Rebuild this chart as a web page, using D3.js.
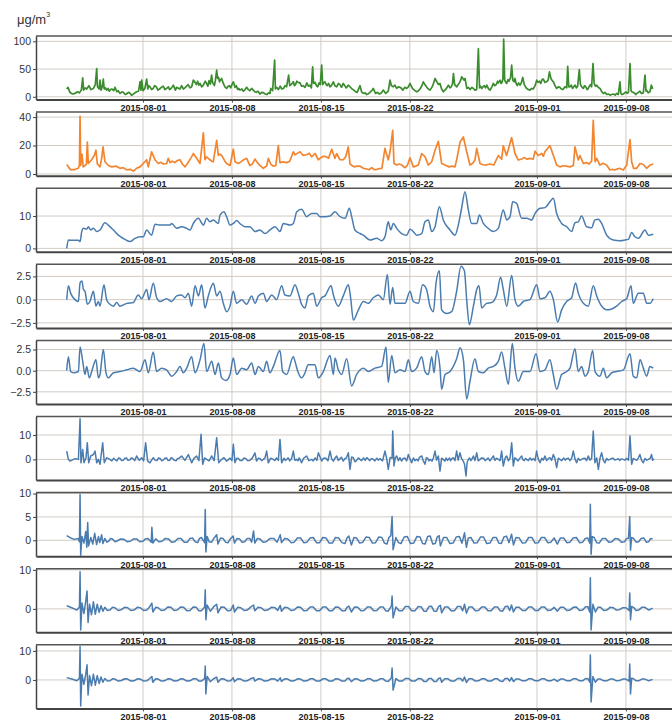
<!DOCTYPE html>
<html>
<head>
<meta charset="utf-8">
<script src="https://cdn.jsdelivr.net/npm/d3@7"></script>
<style>
  body { margin: 0; background: #fff; }
  svg { display: block; font-family: "Liberation Sans", Arial, sans-serif; }
</style>
</head>
<body>
<svg id="svg" width="672" height="721"></svg>
<script>
// days since 2015-07-26 00:00, value
var pmGreen = [[0,14],[0.1,17],[0.25,8],[0.45,5],[0.65,6],[0.85,9],[1.0,7],[1.15,12],[1.26,34],[1.33,12],[1.45,16],[1.57,14],[1.75,20],[1.9,13],[2.1,15],[2.25,22],[2.36,51],[2.42,18],[2.55,14],[2.62,30],[2.7,12],[2.8,18],[2.88,32],[2.95,14],[3.05,16],[3.14,12],[3.25,15],[3.35,10],[3.45,13],[3.55,14],[3.7,11],[3.8,17],[3.95,9],[4.05,11],[4.2,6],[4.35,9],[4.45,8],[4.6,4],[4.7,5],[4.85,8],[4.95,7],[5.1,3],[5.2,4],[5.35,7],[5.5,9],[5.65,10],[5.77,27],[5.84,12],[5.9,30],[6.0,11],[6.15,15],[6.29,32],[6.38,14],[6.45,20],[6.55,18],[6.68,13],[6.8,15],[6.92,20],[7.05,18],[7.18,12],[7.3,14],[7.45,17],[7.6,19],[7.72,13],[7.86,15],[8.0,18],[8.1,13],[8.25,16],[8.39,21],[8.55,12],[8.65,17],[8.75,16],[8.91,14],[9.04,20],[9.18,14],[9.3,16],[9.42,19],[9.55,22],[9.7,16],[9.83,18],[9.96,30],[10.1,26],[10.2,22],[10.3,28],[10.4,21],[10.49,24],[10.62,18],[10.75,21],[10.9,28],[11.01,24],[11.1,19],[11.2,29],[11.3,23],[11.4,39],[11.48,25],[11.53,24],[11.62,20],[11.7,30],[11.8,48],[11.87,33],[11.95,35],[12.02,27],[12.1,30],[12.19,33],[12.32,24],[12.45,18],[12.58,15],[12.7,19],[12.8,20],[12.9,16],[13.0,22],[13.11,27],[13.24,17],[13.35,20],[13.45,13],[13.55,15],[13.63,12],[13.78,14],[13.9,10],[14.03,13],[14.16,17],[14.28,13],[14.4,11],[14.55,15],[14.68,12],[14.8,9],[14.9,8],[15.05,10],[15.2,5],[15.35,8],[15.5,7],[15.62,5],[15.75,4],[15.88,7],[15.99,6],[16.05,15],[16.2,11],[16.36,66],[16.42,14],[16.52,17],[16.65,13],[16.8,19],[16.92,14],[17.05,15],[17.18,20],[17.3,18],[17.46,39],[17.55,20],[17.7,23],[17.83,27],[17.92,20],[18.0,22],[18.1,28],[18.2,26],[18.36,25],[18.48,19],[18.6,20],[18.75,17],[18.9,25],[19.02,19],[19.14,21],[19.25,16],[19.35,54],[19.42,24],[19.54,26],[19.65,20],[19.75,18],[19.85,25],[19.95,22],[20.06,57],[20.14,22],[20.22,25],[20.32,27],[20.42,22],[20.5,20],[20.6,24],[20.72,18],[20.85,21],[20.98,27],[21.1,20],[21.24,18],[21.38,24],[21.5,22],[21.62,17],[21.76,24],[21.88,20],[22.0,16],[22.15,21],[22.29,18],[22.45,14],[22.6,12],[22.72,9],[22.85,8],[23.08,20],[23.2,9],[23.34,6],[23.48,7],[23.6,4],[23.72,5],[23.85,8],[24.0,11],[24.12,15],[24.3,6],[24.45,8],[24.6,5],[24.75,7],[24.91,12],[25.1,6],[25.3,10],[25.44,30],[25.55,20],[25.7,18],[25.82,21],[25.96,15],[26.1,18],[26.3,16],[26.45,12],[26.6,17],[26.75,15],[26.88,18],[27.01,24],[27.2,15],[27.35,12],[27.54,9],[27.68,11],[27.8,14],[27.95,20],[28.06,27],[28.18,22],[28.3,18],[28.45,14],[28.59,12],[28.7,16],[28.8,20],[28.98,33],[29.1,28],[29.25,22],[29.37,24],[29.5,14],[29.64,9],[29.75,12],[29.85,14],[30.03,21],[30.15,16],[30.25,18],[30.35,23],[30.43,42],[30.52,22],[30.6,20],[30.69,18],[30.8,22],[30.9,25],[31.0,30],[31.08,36],[31.2,32],[31.27,30],[31.34,33],[31.48,15],[31.6,17],[31.74,13],[31.88,17],[32.0,15],[32.12,12],[32.26,13],[32.39,87],[32.48,16],[32.56,19],[32.66,15],[32.75,18],[32.85,20],[32.95,16],[33.05,21],[33.2,14],[33.31,12],[33.45,18],[33.57,24],[33.68,20],[33.8,22],[33.9,28],[33.96,25],[34.1,30],[34.18,24],[34.25,26],[34.32,32],[34.38,104],[34.46,30],[34.55,26],[34.62,24],[34.72,31],[34.8,28],[34.92,34],[35.01,57],[35.1,30],[35.2,27],[35.27,33],[35.36,24],[35.45,20],[35.56,25],[35.67,21],[35.78,26],[35.88,35],[36.0,22],[36.1,18],[36.19,15],[36.32,13],[36.45,12],[36.58,15],[36.7,14],[36.85,20],[36.98,30],[37.08,26],[37.2,28],[37.3,24],[37.4,31],[37.5,32],[37.62,26],[37.75,27],[37.88,30],[37.98,45],[38.1,33],[38.2,29],[38.29,27],[38.42,20],[38.55,15],[38.68,18],[38.8,17],[38.92,14],[39.05,13],[39.2,18],[39.34,16],[39.42,55],[39.5,18],[39.6,18],[39.7,21],[39.8,15],[39.9,18],[40.0,21],[40.1,16],[40.2,19],[40.33,49],[40.42,22],[40.52,18],[40.65,15],[40.75,20],[40.85,18],[40.95,13],[41.04,15],[41.12,19],[41.2,22],[41.3,18],[41.41,60],[41.5,24],[41.6,19],[41.7,21],[41.82,17],[41.96,15],[42.1,9],[42.22,6],[42.35,8],[42.5,4],[42.62,5],[42.75,3],[42.88,4],[43.0,5],[43.15,3],[43.27,6],[43.4,4],[43.53,27],[43.6,6],[43.7,4],[43.8,5],[43.9,7],[44.0,9],[44.1,6],[44.2,8],[44.32,60],[44.4,12],[44.45,9],[44.58,8],[44.7,6],[44.78,4],[44.85,6],[44.98,8],[45.1,10],[45.22,6],[45.37,7],[45.5,39],[45.58,10],[45.63,12],[45.75,7],[45.89,9],[46.0,21],[46.1,14]];

var pmOrange = [[0,6.7],[0.13,5],[0.3,3],[0.6,3],[0.9,4],[1.0,6],[1.05,40.5],[1.1,6],[1.2,14],[1.3,5],[1.45,6],[1.55,7],[1.62,22.5],[1.7,7.4],[1.96,10],[2.17,13],[2.3,16.7],[2.41,7],[2.62,5],[2.75,11],[2.86,19],[3.01,8.6],[3.28,6],[3.55,5],[3.9,5.5],[4.2,4],[4.45,4.5],[4.7,3],[5.0,3.3],[5.24,2],[5.5,4],[5.77,5],[6.03,7.4],[6.29,10],[6.42,5],[6.68,15.6],[6.95,10],[7.2,7.4],[7.4,8.2],[7.6,7],[7.86,7.4],[7.99,11],[8.13,8],[8.3,9],[8.5,8],[8.7,9.5],[8.91,10],[9.1,7],[9.31,5],[9.55,8],[9.83,12],[9.96,14.4],[10.22,11],[10.49,7.4],[10.75,29],[10.88,10],[11.0,12],[11.14,11],[11.27,10],[11.4,9],[11.53,8.6],[11.8,23.7],[11.93,13],[12.05,14],[12.19,13],[12.32,11],[12.45,9],[12.58,7.4],[12.85,6],[13.11,17.4],[13.24,8.6],[13.5,7.4],[13.7,8.5],[13.9,9.8],[14.16,11],[14.4,6],[14.6,7],[14.81,10.5],[15.0,8],[15.2,6],[15.47,4],[15.73,5.6],[15.86,11],[16.05,7],[16.25,5.5],[16.45,6],[16.65,20],[16.78,8],[17.05,8.5],[17.3,8],[17.55,9],[17.83,15.6],[17.96,13.5],[18.15,14.5],[18.36,15.6],[18.6,13],[18.9,13.7],[19.1,14.5],[19.27,12],[19.54,14.4],[19.8,10],[19.93,11],[20.2,12.5],[20.45,12],[20.6,11],[20.85,17.4],[21.1,11],[21.24,14.4],[21.5,10],[21.76,10],[21.95,12],[22.15,19],[22.29,7],[22.45,6],[22.6,5],[22.85,5.5],[23.08,5.5],[23.34,4],[23.6,3.5],[23.8,3],[24.0,4.5],[24.2,3],[24.4,3.3],[24.6,3.8],[24.8,4],[25.04,18],[25.3,10],[25.44,15.6],[25.65,30.7],[25.75,7.4],[25.96,6.3],[26.15,7],[26.35,6.3],[26.62,4.4],[26.8,6],[27.01,11.4],[27.27,5],[27.45,5.5],[27.67,6.3],[27.93,14.4],[28.2,12],[28.45,6.3],[28.72,8.6],[28.98,16.7],[29.24,23],[29.5,7.4],[29.77,6.3],[29.95,5.5],[30.1,5],[30.3,5.5],[30.55,5],[30.68,9.8],[30.95,22.5],[31.21,26],[31.47,15.6],[31.73,6.3],[31.95,7.5],[32.12,9.8],[32.26,18],[32.52,7.4],[32.75,6.5],[33.0,6.3],[33.3,7],[33.6,6.3],[33.96,13],[34.22,10.5],[34.35,19.8],[34.61,13],[35.01,25.6],[35.27,14.4],[35.53,9.8],[35.8,10.5],[36.0,11.5],[36.2,10.5],[36.45,11],[36.7,10.5],[36.85,16],[37.1,13],[37.37,14.4],[37.5,12.5],[37.63,15.6],[38.02,20],[38.29,13],[38.55,6.3],[38.8,5],[39.05,5.8],[39.3,5.5],[39.6,5],[39.86,6],[39.99,19],[40.25,9.8],[40.38,13],[40.65,7.4],[40.9,8],[41.1,7],[41.3,9],[41.43,37.7],[41.57,8.6],[41.7,11],[41.96,6.3],[42.2,7.5],[42.48,6.3],[42.74,2.8],[42.95,3.3],[43.1,2.8],[43.3,3.4],[43.5,4],[43.8,2.8],[44.06,6.3],[44.32,24.2],[44.45,8.6],[44.6,4],[44.85,4],[45.11,7.4],[45.37,6.7],[45.63,4],[45.89,6.3],[46.15,7]];

var comp1 = [[0,0],[0.13,2.6],[0.39,2.5],[0.92,2.5],[1.05,2.1],[1.18,5.2],[1.31,6.2],[1.57,6.0],[1.7,6.7],[1.89,5.7],[2.1,6.2],[2.36,5.2],[2.62,5.7],[3.01,7.9],[3.27,7.2],[3.67,5.7],[4.06,4.1],[4.45,3.1],[4.98,2.1],[5.37,3.1],[5.76,3.6],[6.03,3.6],[6.29,5.7],[6.68,4.1],[6.95,7.5],[7.34,7.2],[8.13,7.2],[8.26,7.7],[8.65,6.2],[9.04,6.7],[9.44,6.2],[9.7,5.7],[9.96,7.7],[10.36,9.3],[10.75,7.2],[11.01,9.3],[11.27,8.2],[11.54,8.8],[11.93,7.7],[12.06,10.3],[12.37,11.3],[12.58,9.8],[12.85,7.2],[13.11,7.7],[13.37,8.6],[13.63,7.7],[14.03,6.7],[14.42,6.7],[14.82,5.2],[15.2,5.7],[15.6,4.6],[16.0,5.7],[16.39,6.7],[16.78,5.2],[17.04,7.7],[17.57,7.2],[17.83,7.7],[18.1,11.3],[18.48,12.1],[18.88,9.8],[19.27,10.8],[19.67,10.8],[19.93,9.8],[20.32,9.8],[20.72,10],[21.11,11.3],[21.5,9.8],[21.9,9.3],[22.24,12.4],[22.42,9.8],[22.68,5.7],[23.08,4.6],[23.34,4.1],[23.86,2.6],[24.39,3.1],[24.78,2.4],[25.04,3.6],[25.3,8.2],[25.49,5.7],[25.7,7.7],[25.96,6.2],[26.35,4.6],[26.75,4.1],[27.01,5.9],[27.27,5.2],[27.53,4.1],[27.93,4.6],[28.19,8.2],[28.45,8.8],[28.72,5.2],[28.98,6.7],[29.32,12.9],[29.63,8.8],[30.16,5.7],[30.55,4.1],[30.81,7.2],[31.07,12.4],[31.34,17.5],[31.6,11.9],[31.86,7.7],[32.26,7.7],[32.47,10.3],[32.78,7.7],[33.17,6.2],[33.57,5.2],[33.96,6.2],[34.35,11.9],[34.62,8.8],[34.88,9.8],[35.09,14.4],[35.4,13.9],[35.8,9.3],[36.19,9.3],[36.58,8.8],[36.85,10.8],[37.24,12.4],[37.63,12.6],[38.02,14.4],[38.29,15.5],[38.55,10.8],[38.94,7.7],[39.34,6.7],[39.73,5.2],[39.99,7.9],[40.25,8.2],[40.51,10],[40.91,6.7],[41.3,6.4],[41.56,8.8],[41.83,9.0],[42.09,7.7],[42.48,4.1],[43.0,2.6],[43.53,2.4],[43.93,2.6],[44.19,2.8],[44.45,4.9],[44.71,3.6],[44.98,3.1],[45.5,5.7],[45.76,4.1],[46.15,4.4]];

var comp2 = [[0,0],[0.13,1.5],[0.31,0.7],[0.52,0.2],[0.92,-0.2],[1.05,1.8],[1.2,2.0],[1.31,1.1],[1.44,0.9],[1.62,-0.5],[1.83,-0.2],[2.1,0.9],[2.3,-0.7],[2.49,-0.2],[2.62,-0.7],[2.93,1.6],[3.14,0],[3.4,-0.5],[3.67,-0.7],[3.93,-0.3],[4.19,-0.7],[4.72,-0.4],[5.24,-0.3],[5.63,0.5],[5.9,0.1],[6.29,1.1],[6.47,0],[6.81,1.75],[7.08,0.2],[7.34,-0.2],[7.86,0.1],[8.26,-0.2],[8.65,0.4],[9.04,0.5],[9.31,0.2],[9.57,0.7],[9.83,-0.7],[10.1,1.5],[10.36,0.4],[10.62,1.6],[10.88,-0.9],[11.14,0.4],[11.54,1.75],[11.8,0.4],[12.06,0.9],[12.32,-0.4],[12.59,-1.3],[12.85,-0.7],[13.11,0.9],[13.37,-0.4],[13.77,0],[14.16,-0.5],[14.55,0.4],[14.82,-0.4],[15.08,0.4],[15.47,0.7],[15.73,-0.2],[16.13,0.5],[16.52,0],[16.91,1.5],[17.17,0.5],[17.57,0.4],[17.96,1.6],[18.22,0.7],[18.48,-0.5],[18.75,-0.9],[19.0,0.4],[19.4,0.7],[19.67,-0.7],[20.06,0.2],[20.32,0.4],[20.8,1.5],[20.98,0.5],[21.37,-0.7],[21.76,0.4],[22.16,1.6],[22.34,0.2],[22.55,-2.2],[22.95,-1.1],[23.34,-0.2],[23.73,-0.4],[24.12,0.2],[24.52,0.5],[24.91,0],[25.23,2.7],[25.44,-0.5],[25.65,1.3],[25.83,-0.4],[26.22,-0.4],[26.62,-0.4],[27.01,0.9],[27.27,-0.2],[27.67,-0.4],[28.0,1.6],[28.31,1.1],[28.58,-0.7],[28.85,-1.3],[29.06,1.8],[29.32,3.1],[29.5,-1.1],[29.9,-1.5],[30.29,-1.3],[30.68,0.9],[31.02,3.6],[31.29,3.1],[31.47,0],[31.68,-2.7],[32.0,-0.7],[32.26,1.1],[32.44,1.5],[32.65,-0.9],[33.04,-0.4],[33.44,-0.3],[33.83,0.5],[34.14,2.4],[34.35,1.1],[34.62,-0.7],[35.01,2.6],[35.27,0],[35.53,-0.7],[35.93,-0.2],[36.45,0],[36.98,1.6],[37.24,0.1],[37.63,0.2],[38.02,0.9],[38.29,0],[38.63,-2.4],[38.94,-1.1],[39.33,-0.2],[39.73,0.2],[40.04,1.8],[40.25,0.7],[40.65,-0.4],[41.04,-0.7],[41.43,1.5],[41.7,0.4],[42.09,-0.7],[42.48,-1.1],[42.88,-1.0],[43.27,-0.7],[43.67,-0.2],[44.06,0.1],[44.4,1.5],[44.58,-0.4],[44.97,0.7],[45.37,0.7],[45.63,-0.4],[45.89,-0.4],[46.15,0.1]];

var comp3 = [[0,0],[0.13,1.65],[0.31,-0.1],[0.52,-0.25],[0.92,-0.1],[1.05,2.8],[1.26,1.1],[1.44,-0.45],[1.57,0.5],[1.78,-0.85],[2.04,0.3],[2.3,1.3],[2.49,-0.85],[2.62,-0.45],[2.88,2.5],[3.09,-0.25],[3.27,-0.85],[3.67,-0.25],[4.19,-0.1],[4.72,0.1],[5.24,0.3],[5.77,-0.1],[6.16,1.3],[6.42,-0.25],[6.81,2.2],[7.08,-0.1],[7.47,0.3],[7.86,0.1],[8.26,-0.65],[8.65,-0.1],[8.91,0.5],[9.17,-0.25],[9.44,0.3],[9.83,1.65],[10.1,-0.25],[10.49,1.3],[10.8,3.2],[11.01,-0.1],[11.41,1.1],[11.67,-0.45],[11.93,0.9],[12.19,-0.85],[12.53,-1.15],[12.85,-0.45],[13.11,1.5],[13.37,-0.45],[13.77,0.3],[14.16,0.1],[14.55,0.9],[14.82,-0.45],[15.08,0.5],[15.47,-0.1],[15.73,1.1],[15.99,-0.25],[16.26,0.5],[16.78,2.4],[16.99,-0.1],[17.3,-0.45],[17.83,1.65],[17.96,1.1],[18.22,-0.25],[18.48,-0.85],[18.75,-0.25],[19.0,0.7],[19.53,0.7],[19.8,-0.85],[20.19,-0.1],[20.72,1.8],[20.98,-0.45],[21.11,1.5],[21.37,0.1],[21.63,-0.45],[22.03,1.4],[22.42,-1.8],[22.81,-0.45],[23.34,0.3],[23.73,-0.1],[24.26,0.3],[24.78,0.5],[25.12,2.8],[25.3,-1.4],[25.57,1.8],[25.83,-0.25],[26.22,0.1],[26.62,-0.1],[26.88,1.3],[27.14,-0.1],[27.53,0.3],[27.93,1.65],[28.19,-0.1],[28.45,-0.45],[28.72,1.65],[28.9,-0.25],[29.11,2.4],[29.37,0.3],[29.5,-2.2],[29.77,-0.45],[30.16,-0.1],[30.68,1.4],[30.95,2.7],[31.21,1.3],[31.47,-3.35],[31.73,-1.25],[32.12,1.4],[32.39,-0.1],[32.78,-0.25],[33.17,0.3],[33.57,0.5],[33.96,1.1],[34.22,2.2],[34.48,0.3],[34.75,-1.6],[35.06,3.2],[35.27,0.3],[35.53,-1.25],[35.93,-0.1],[36.45,-0.1],[36.93,2.0],[37.24,-0.1],[37.63,0.1],[38.02,1.3],[38.24,-0.1],[38.55,-2.2],[38.94,-0.45],[39.34,-0.1],[39.6,0.3],[39.99,2.6],[40.25,-0.1],[40.51,0.5],[40.78,-0.65],[41.04,-0.1],[41.38,2.4],[41.57,-0.1],[41.96,-0.65],[42.22,0.3],[42.48,-0.85],[42.88,-0.25],[43.27,-0.1],[43.8,0.1],[44.32,2.0],[44.58,-0.65],[44.85,-0.85],[45.11,1.3],[45.37,0.3],[45.63,-0.65],[45.89,0.5],[46.15,0.3]];

var comp4 = [[0,3.4],[0.13,0],[0.26,-0.7],[0.65,0.3],[0.92,0],[1.05,16.7],[1.12,-1.4],[1.26,4.1],[1.36,-1.4],[1.52,0.7],[1.62,6.8],[1.73,-1.4],[1.89,1.4],[2.1,2.0],[2.23,3.4],[2.36,-1.4],[2.49,0],[2.62,-2.0],[2.83,6.8],[2.96,-1.4],[3.14,0.7],[3.4,0],[3.55,-0.6],[3.7,0.5],[3.82,-0.2],[3.95,-0.6],[4.08,0.6],[4.2,0.4],[4.32,-0.5],[4.45,-0.4],[4.58,0.5],[4.7,0.6],[4.82,-0.4],[4.95,-0.3],[5.08,0.6],[5.2,0.4],[5.35,-0.5],[5.5,1.4],[5.7,-0.4],[5.9,0.7],[6.05,-0.6],[6.21,6.8],[6.37,-0.7],[6.55,-1.4],[6.81,0.7],[6.95,-0.3],[7.1,-0.5],[7.22,0.6],[7.35,0.4],[7.48,-0.6],[7.6,-0.3],[7.72,0.5],[7.85,0.6],[7.98,-0.5],[8.1,-0.4],[8.22,0.7],[8.35,0.3],[8.48,-0.4],[8.6,-0.6],[8.72,0.4],[8.85,0.5],[9.04,1.4],[9.3,-0.4],[9.57,2.0],[9.83,-1.4],[10.0,0.3],[10.22,1.4],[10.4,-0.5],[10.57,10.3],[10.7,-2.0],[10.85,0.6],[11.01,0],[11.2,-0.6],[11.41,1.4],[11.6,-0.5],[11.8,8.9],[11.96,-1.4],[12.19,0],[12.38,0.7],[12.58,-0.7],[12.85,0.5],[13.0,-0.5],[13.11,6.2],[13.24,-1.4],[13.37,0.5],[13.5,0.4],[13.65,-0.5],[13.8,-0.5],[13.95,0.6],[14.1,0.3],[14.25,-0.6],[14.4,-0.4],[14.6,0.5],[14.81,2.7],[14.94,-0.7],[15.08,0.5],[15.2,0.4],[15.33,-0.5],[15.47,0],[15.6,0.6],[15.73,3.4],[15.86,-1.4],[16.05,0.5],[16.26,0],[16.38,-0.5],[16.5,0.6],[16.65,-0.4],[16.78,8.2],[16.91,-1.4],[17.1,0.5],[17.2,-0.4],[17.3,0],[17.43,0.6],[17.55,-0.6],[17.7,0.4],[17.83,3.4],[17.95,-0.4],[18.1,0],[18.2,-0.5],[18.3,0.6],[18.48,-1.4],[18.65,0.5],[18.88,1.4],[19.05,-0.5],[19.27,0],[19.4,-0.6],[19.55,0.6],[19.68,-0.4],[19.8,2.7],[20.06,-0.7],[20.2,0.5],[20.4,0.5],[20.55,-0.6],[20.72,3.4],[20.85,0.2],[20.98,-0.7],[21.1,0.5],[21.24,1.4],[21.37,-0.4],[21.5,0.3],[21.62,0.9],[21.76,-0.7],[21.9,0.4],[22.0,0.6],[22.16,2.7],[22.29,-4.1],[22.42,1.0],[22.55,0.7],[22.68,-1.0],[22.8,-0.5],[22.95,0.6],[23.08,0],[23.2,-0.5],[23.35,0.6],[23.48,-0.4],[23.6,0.7],[23.72,0.2],[23.85,-0.5],[23.98,0.4],[24.12,0],[24.25,-0.6],[24.4,0.5],[24.52,-0.3],[24.65,0.3],[24.85,-0.6],[25.04,3.4],[25.17,0.5],[25.3,-4.1],[25.45,0.8],[25.6,0.5],[25.65,11.6],[25.75,-2.7],[25.85,0.6],[25.96,1.4],[26.1,-0.5],[26.22,0.7],[26.35,-0.7],[26.48,0.4],[26.6,0.6],[26.75,-0.6],[26.88,2.0],[27.0,0.3],[27.14,-1.4],[27.28,0.6],[27.4,-0.5],[27.54,0],[27.65,-0.6],[27.75,0.8],[27.93,1.4],[28.05,-0.5],[28.19,-2.0],[28.3,0.7],[28.4,0.5],[28.5,-0.6],[28.59,0],[28.75,-0.7],[28.85,0.6],[28.98,3.4],[29.1,-0.3],[29.24,1.4],[29.37,-4.8],[29.5,0.5],[29.63,0],[29.75,-0.7],[29.85,0.6],[29.95,-0.4],[30.03,0],[30.12,0.6],[30.2,-0.6],[30.3,0.3],[30.42,0.7],[30.55,-0.5],[30.68,3.4],[30.8,-0.3],[30.94,2.7],[31.07,0.3],[31.2,-0.7],[31.3,-2.0],[31.42,-6.8],[31.5,-1.4],[31.6,0],[31.7,0.6],[31.8,-0.5],[31.9,0.3],[32.0,1.4],[32.12,-0.5],[32.26,2.7],[32.38,-0.6],[32.52,0],[32.65,0.6],[32.8,0.5],[32.92,-0.5],[33.04,0],[33.15,0.6],[33.3,-0.6],[33.42,0.3],[33.57,1.4],[33.7,-0.4],[33.82,0.5],[33.96,0],[34.1,-0.5],[34.22,3.4],[34.35,-2.7],[34.5,0.6],[34.62,1.4],[34.75,-0.6],[34.88,0.5],[35.01,6.8],[35.14,-2.7],[35.26,0.7],[35.4,0],[35.52,-0.6],[35.65,0.5],[35.8,1.4],[35.9,-0.2],[36.0,-0.5],[36.1,0.4],[36.19,0],[36.32,-0.5],[36.45,0.6],[36.58,-0.3],[36.71,0.3],[36.85,-0.5],[36.97,3.4],[37.1,0.2],[37.24,-1.4],[37.38,0.5],[37.5,-0.3],[37.63,1.4],[37.76,-0.5],[37.9,0.4],[38.02,0.7],[38.15,-0.4],[38.29,2.0],[38.42,0.2],[38.55,-3.4],[38.68,0.5],[38.81,0],[38.95,-0.5],[39.1,0.6],[39.22,-0.3],[39.34,0.3],[39.47,0.5],[39.6,-0.5],[39.73,0.4],[39.86,3.4],[39.99,0.2],[40.12,-1.4],[40.25,0.5],[40.38,-0.4],[40.51,0],[40.65,0.4],[40.78,0.5],[40.9,-0.5],[41.04,1.4],[41.17,-0.3],[41.3,0.4],[41.43,11.6],[41.56,-1.4],[41.7,0.6],[41.83,-4.1],[41.96,0.5],[42.09,2.7],[42.22,-0.3],[42.35,-1.4],[42.48,0.4],[42.6,-0.3],[42.74,0],[42.88,0.4],[43.0,0.5],[43.13,-0.3],[43.27,0],[43.4,0.3],[43.5,-0.4],[43.65,0.2],[43.79,0],[43.92,-0.3],[44.05,0.4],[44.2,-0.3],[44.32,9.6],[44.45,-2.0],[44.58,0.4],[44.71,0],[44.85,-0.4],[44.97,0.5],[45.1,2.0],[45.23,-0.4],[45.37,-1.4],[45.5,0.4],[45.63,-0.3],[45.76,0],[45.9,0.4],[46.02,2.0],[46.1,-0.4],[46.2,0.3]];

var comp5 = [[0,1.0],[0.3,0.5],[0.6,0.2],[0.9,0.4],[1.0,-0.3],[1.05,9.8],[1.1,-3.2],[1.2,0.8],[1.35,-0.6],[1.5,1.9],[1.58,-1.5],[1.65,3.8],[1.72,-1.2],[1.9,0.6],[2.05,-0.8],[2.2,1.5],[2.35,-0.9],[2.5,0.8],[2.6,-0.5],[2.75,1.2],[2.85,-0.7],[3.0,0.4],[3.15,-0.4],[3.3,-0.2],[3.45,0.4],[3.6,0.3],[3.8,-0.3],[4.0,-0.1],[4.25,0.3],[4.5,0.2],[4.75,-0.3],[5.0,-0.2],[5.25,0.3],[5.5,0.3],[5.75,-0.3],[6.0,-0.2],[6.2,0.3],[6.4,0.4],[6.65,-0.4],[6.7,2.8],[6.78,-0.6],[7.0,0.3],[7.25,-0.3],[7.5,-0.2],[7.75,0.4],[8.0,0.3],[8.25,-0.4],[8.5,-0.3],[8.75,0.4],[9.0,0.4],[9.25,-0.4],[9.5,-0.4],[9.7,0.4],[9.9,0.5],[10.1,-0.3],[10.3,-0.5],[10.45,0.4],[10.6,0.6],[10.85,-0.5],[10.9,6.6],[10.95,-2.5],[11.05,0.8],[11.2,-0.3],[11.4,-0.4],[11.6,0.5],[11.8,1.2],[11.9,-0.8],[12.1,0.5],[12.3,0.4],[12.5,-0.4],[12.7,-0.5],[12.9,0.4],[13.1,0.9],[13.2,-0.6],[13.4,0.4],[13.6,0.3],[13.8,-0.4],[14.0,-0.3],[14.2,0.4],[14.4,0.4],[14.55,-0.4],[14.7,2.0],[14.8,-0.6],[15.0,0.4],[15.2,0.3],[15.45,-0.4],[15.7,-0.3],[16.0,0.4],[16.3,0.4],[16.55,-0.4],[16.8,1.2],[16.9,-0.5],[17.15,0.4],[17.4,0.3],[17.65,-0.5],[17.9,-0.4],[18.15,0.5],[18.4,0.5],[18.65,-0.5],[18.9,-0.4],[19.15,0.5],[19.4,0.6],[19.65,-0.5],[19.9,-0.5],[20.15,0.6],[20.4,0.5],[20.65,-0.6],[20.9,-0.6],[21.15,0.6],[21.4,0.5],[21.65,-0.5],[21.9,-0.7],[22.05,0.5],[22.2,0.9],[22.4,-1.0],[22.6,0.6],[22.8,0.5],[23.05,-0.6],[23.3,-0.4],[23.55,0.7],[23.8,0.6],[24.05,-0.6],[24.3,-0.5],[24.55,0.7],[24.8,0.6],[25.0,-0.6],[25.2,-0.8],[25.35,0.6],[25.5,1.0],[25.6,5.1],[25.68,-2.0],[25.9,0.6],[26.1,-0.5],[26.3,-0.7],[26.55,0.7],[26.8,0.8],[27.05,-0.7],[27.3,-0.6],[27.55,0.8],[27.8,0.7],[28.0,-0.7],[28.2,-0.8],[28.4,0.8],[28.6,0.9],[28.8,-0.8],[29.0,-0.7],[29.15,0.7],[29.3,1.0],[29.4,-1.2],[29.65,0.6],[29.9,0.6],[30.15,-0.7],[30.4,-0.6],[30.65,0.7],[30.9,0.8],[31.1,-0.6],[31.3,1.6],[31.45,-1.5],[31.6,0.5],[31.8,0.6],[32.05,-0.6],[32.3,-0.5],[32.55,0.7],[32.8,0.7],[33.05,-0.7],[33.3,-0.6],[33.55,0.6],[33.8,0.6],[34.0,-0.6],[34.2,-0.7],[34.4,0.7],[34.6,0.9],[34.8,-0.5],[35.0,1.3],[35.15,-1.0],[35.35,0.6],[35.6,0.5],[35.85,-0.6],[36.1,-0.5],[36.35,0.6],[36.6,0.6],[36.85,-0.6],[37.1,-0.5],[37.35,0.6],[37.6,0.6],[37.85,-0.5],[38.1,-0.4],[38.35,0.5],[38.6,-0.8],[38.85,0.5],[39.1,0.5],[39.35,-0.5],[39.6,-0.4],[39.85,0.5],[40.1,0.6],[40.35,-0.5],[40.6,-0.4],[40.8,0.4],[41.0,0.5],[41.15,-0.6],[41.2,7.7],[41.26,-3.0],[41.35,0.8],[41.5,0.6],[41.7,-0.5],[41.9,-0.6],[42.15,0.4],[42.4,0.4],[42.65,-0.4],[42.9,-0.3],[43.15,0.4],[43.4,0.3],[43.65,-0.4],[43.9,-0.3],[44.05,0.4],[44.2,0.4],[44.3,5.1],[44.36,-2.1],[44.45,0.6],[44.6,0.4],[44.8,-0.4],[45.0,-0.3],[45.2,0.4],[45.4,0.5],[45.6,-0.4],[45.8,-0.3],[45.95,0.4],[46.1,0.3]];

var comp6 = [[0,0.8],[0.4,0.3],[0.8,-0.3],[1.0,0.5],[1.05,9.5],[1.1,-5.4],[1.2,1.5],[1.35,-1.2],[1.5,2.0],[1.6,4.6],[1.68,-3.5],[1.8,1.2],[1.95,-1.5],[2.1,1.8],[2.25,-1.4],[2.4,1.2],[2.55,-0.9],[2.7,0.8],[2.85,-0.6],[3.0,0.4],[3.2,-0.4],[3.4,-0.3],[3.6,0.4],[3.8,0.3],[4.05,-0.4],[4.3,-0.2],[4.55,0.4],[4.8,0.3],[5.05,-0.4],[5.3,-0.3],[5.55,0.4],[5.8,0.3],[6.05,-0.4],[6.3,-0.3],[6.5,0.4],[6.7,1.5],[6.78,-0.8],[7.0,0.4],[7.2,0.3],[7.45,-0.4],[7.7,-0.3],[7.95,0.5],[8.2,0.4],[8.45,-0.4],[8.7,-0.3],[8.95,0.5],[9.2,0.4],[9.45,-0.5],[9.7,-0.4],[9.95,0.5],[10.2,0.4],[10.4,-0.5],[10.6,-0.5],[10.85,0.5],[10.9,4.9],[10.95,-2.8],[11.05,1.0],[11.3,-0.6],[11.55,0.5],[11.8,1.2],[11.9,-1.0],[12.15,0.5],[12.4,0.4],[12.65,-0.5],[12.9,-0.4],[13.1,1.0],[13.2,-0.8],[13.45,0.4],[13.7,0.3],[13.95,-0.4],[14.2,-0.3],[14.45,0.4],[14.7,1.0],[14.8,-0.5],[15.05,0.4],[15.3,0.3],[15.55,-0.4],[15.8,-0.3],[16.1,0.4],[16.4,0.3],[16.6,-0.4],[16.8,0.9],[16.9,-0.6],[17.15,0.4],[17.4,0.3],[17.65,-0.4],[17.9,-0.3],[18.15,0.5],[18.4,0.4],[18.65,-0.5],[18.9,-0.4],[19.15,0.5],[19.4,0.5],[19.65,-0.5],[19.9,-0.5],[20.15,0.5],[20.4,0.5],[20.65,-0.5],[20.9,-0.5],[21.15,0.5],[21.4,0.4],[21.65,-0.5],[21.9,-0.5],[22.05,0.4],[22.2,0.7],[22.4,-0.8],[22.65,0.5],[22.9,0.4],[23.15,-0.5],[23.4,-0.4],[23.65,0.5],[23.9,0.5],[24.15,-0.5],[24.4,-0.4],[24.65,0.5],[24.9,0.5],[25.1,-0.5],[25.3,-0.6],[25.55,0.8],[25.6,3.3],[25.68,-2.3],[25.9,0.5],[26.15,-0.5],[26.4,-0.5],[26.65,0.6],[26.9,0.6],[27.15,-0.5],[27.4,-0.5],[27.65,0.6],[27.9,0.5],[28.1,-0.6],[28.3,-0.6],[28.5,0.6],[28.7,0.7],[28.9,-0.6],[29.1,-0.6],[29.25,0.6],[29.4,0.9],[29.5,-1.0],[29.75,0.5],[30.0,0.5],[30.25,-0.5],[30.5,-0.5],[30.75,0.6],[31.0,0.6],[31.15,-0.5],[31.3,1.2],[31.45,-1.1],[31.65,0.5],[31.9,0.5],[32.15,-0.5],[32.4,-0.4],[32.65,0.5],[32.9,0.5],[33.15,-0.5],[33.4,-0.5],[33.65,0.5],[33.9,0.5],[34.1,-0.5],[34.3,-0.6],[34.5,0.6],[34.7,0.7],[34.85,-0.4],[35.0,1.0],[35.15,-0.8],[35.35,0.4],[35.6,0.4],[35.85,-0.4],[36.1,-0.4],[36.35,0.5],[36.6,0.5],[36.85,-0.4],[37.1,-0.4],[37.35,0.5],[37.6,0.5],[37.85,-0.4],[38.1,-0.3],[38.35,0.4],[38.6,-0.6],[38.85,0.4],[39.1,0.4],[39.35,-0.4],[39.6,-0.3],[39.85,0.4],[40.1,0.5],[40.35,-0.4],[40.6,-0.3],[40.8,0.5],[41.0,0.6],[41.15,-0.8],[41.2,8.0],[41.26,-5.4],[41.4,1.2],[41.6,-0.8],[41.8,0.4],[42.0,0.4],[42.25,-0.4],[42.5,-0.3],[42.75,0.4],[43.0,0.3],[43.25,-0.3],[43.5,-0.2],[43.75,0.3],[44.0,0.3],[44.25,-0.4],[44.3,4.1],[44.36,-2.8],[44.45,0.6],[44.6,0.4],[44.8,-0.4],[45.0,-0.3],[45.25,0.4],[45.5,0.4],[45.8,-0.3],[46.1,0.2]];

var comp7 = [[0,0.8],[0.4,0.3],[0.8,-0.3],[1.0,0.6],[1.05,11.5],[1.1,-9.0],[1.2,2.0],[1.35,-1.5],[1.5,2.0],[1.6,5.2],[1.68,-5.2],[1.8,1.5],[1.95,-2.0],[2.1,2.0],[2.25,-1.8],[2.4,1.5],[2.55,-1.2],[2.7,1.0],[2.85,-0.8],[3.0,0.5],[3.2,-0.4],[3.4,-0.3],[3.6,0.4],[3.8,0.3],[4.05,-0.4],[4.3,-0.2],[4.55,0.4],[4.8,0.3],[5.05,-0.4],[5.3,-0.3],[5.55,0.4],[5.8,0.3],[6.05,-0.4],[6.3,-0.3],[6.5,0.4],[6.7,1.2],[6.78,-0.8],[7.0,0.4],[7.2,0.3],[7.45,-0.4],[7.7,-0.3],[7.95,0.4],[8.2,0.3],[8.45,-0.4],[8.7,-0.3],[8.95,0.4],[9.2,0.3],[9.45,-0.4],[9.7,-0.3],[9.95,0.4],[10.2,0.4],[10.4,-0.4],[10.6,-0.4],[10.85,0.5],[10.9,4.8],[10.95,-4.8],[11.05,1.2],[11.3,-0.6],[11.55,0.4],[11.8,1.0],[11.9,-0.8],[12.15,0.4],[12.4,0.3],[12.65,-0.4],[12.9,-0.3],[13.1,0.8],[13.2,-0.6],[13.45,0.4],[13.7,0.3],[13.95,-0.4],[14.2,-0.3],[14.45,0.4],[14.7,0.8],[14.8,-0.4],[15.05,0.4],[15.3,0.3],[15.55,-0.4],[15.8,-0.3],[16.1,0.4],[16.4,0.3],[16.6,-0.4],[16.8,0.7],[16.9,-0.5],[17.15,0.4],[17.4,0.3],[17.65,-0.4],[17.9,-0.3],[18.15,0.4],[18.4,0.3],[18.65,-0.4],[18.9,-0.3],[19.15,0.4],[19.4,0.4],[19.65,-0.4],[19.9,-0.4],[20.15,0.4],[20.4,0.4],[20.65,-0.4],[20.9,-0.4],[21.15,0.4],[21.4,0.3],[21.65,-0.4],[21.9,-0.4],[22.05,0.4],[22.2,0.6],[22.4,-0.6],[22.65,0.4],[22.9,0.3],[23.15,-0.4],[23.4,-0.3],[23.65,0.4],[23.9,0.4],[24.15,-0.4],[24.4,-0.3],[24.65,0.4],[24.9,0.4],[25.1,-0.4],[25.3,-0.5],[25.55,0.8],[25.6,4.1],[25.68,-3.5],[25.9,0.5],[26.15,-0.4],[26.4,-0.4],[26.65,0.5],[26.9,0.5],[27.15,-0.4],[27.4,-0.4],[27.65,0.5],[27.9,0.4],[28.1,-0.5],[28.3,-0.5],[28.5,0.5],[28.7,0.5],[28.9,-0.5],[29.1,-0.5],[29.25,0.5],[29.4,0.7],[29.5,-0.8],[29.75,0.4],[30.0,0.4],[30.25,-0.4],[30.5,-0.4],[30.75,0.5],[31.0,0.5],[31.15,-0.4],[31.3,1.0],[31.45,-0.9],[31.65,0.4],[31.9,0.4],[32.15,-0.4],[32.4,-0.3],[32.65,0.4],[32.9,0.4],[33.15,-0.4],[33.4,-0.4],[33.65,0.4],[33.9,0.4],[34.1,-0.4],[34.3,-0.5],[34.5,0.5],[34.7,0.5],[34.85,-0.4],[35.0,0.8],[35.15,-0.6],[35.35,0.3],[35.6,0.3],[35.85,-0.3],[36.1,-0.3],[36.35,0.4],[36.6,0.4],[36.85,-0.3],[37.1,-0.3],[37.35,0.4],[37.6,0.4],[37.85,-0.3],[38.1,-0.3],[38.35,0.3],[38.6,-0.5],[38.85,0.3],[39.1,0.3],[39.35,-0.3],[39.6,-0.3],[39.85,0.4],[40.1,0.4],[40.35,-0.3],[40.6,-0.3],[40.8,0.4],[41.0,0.5],[41.15,-0.8],[41.2,8.6],[41.26,-7.6],[41.4,1.2],[41.6,-0.8],[41.8,0.3],[42.0,0.3],[42.25,-0.3],[42.5,-0.3],[42.75,0.3],[43.0,0.3],[43.25,-0.3],[43.5,-0.2],[43.75,0.3],[44.0,0.3],[44.25,-0.4],[44.3,5.5],[44.36,-4.8],[44.45,0.6],[44.6,0.4],[44.8,-0.3],[45.0,-0.3],[45.25,0.3],[45.5,0.3],[45.8,-0.3],[46.1,0.2]];

var dateTicks = ["2015-08-01","2015-08-08","2015-08-15","2015-08-22","2015-09-01","2015-09-08"];

var yTicks = [[0,50,100],[0,20,40],[0,10],[-2.5,0,2.5],[-2.5,0,2.5],[0,10],[0,5,10],[0,10],[0,10]];
var yTickLabels = [["0","50","100"],["0","20","40"],["0","10"],["\u22122.5","0.0","2.5"],["\u22122.5","0.0","2.5"],["0","10"],["0","5","10"],["0","10"],["0","10"]];
var yDomains = [[-5.1,109.6],[-1.2,43.5],[-1.05,18.6],[-3.04,3.8],[-3.94,3.58],[-8.5,17.6],[-3.4,10.2],[-6.0,10.3],[-9.8,12.1]];

var series = [pmGreen, pmOrange, comp1, comp2, comp3, comp4, comp5, comp6, comp7];
var colors = ["#3b8c2e","#f28530","#4a7cb0","#4a7cb0","#4a7cb0","#4a7cb0","#4a7cb0","#4a7cb0","#4a7cb0"];
var widths = [1.7,1.7,1.5,1.5,1.5,1.5,1.5,1.5,1.5];
var curves = [d3.curveLinear,d3.curveLinear,d3.curveMonotoneX,d3.curveMonotoneX,d3.curveMonotoneX,
  d3.curveLinear,d3.curveLinear,d3.curveLinear,d3.curveLinear];

var t0 = Date.UTC(2015,6,26);
function toDate(day){ return new Date(t0 + day*86400000); }

var svg = d3.select("#svg");
var left = 36, right = 672, firstTop = 36, step = 76.1, ph = 63.6;

var x = d3.scaleUtc()
  .domain([new Date(Date.UTC(2015,6,23,14)), new Date(Date.UTC(2015,8,11,15))])
  .range([left, right]);
var parse = d3.utcParse("%Y-%m-%d");
var tickDates = dateTicks.map(parse);

svg.append("text").attr("x",17).attr("y",24)
  .attr("font-size",13).attr("fill","#333")
  .text("\u03bcg/m")
  .append("tspan").attr("font-size",7).attr("dy",-7).text("3");

series.forEach(function(data,i){
  var top = firstTop + i*step, bottom = top + ph;
  var y = d3.scaleLinear().domain(yDomains[i]).range([bottom, top]);
  var g = svg.append("g");

  // grid
  g.selectAll(".vg").data(tickDates).enter().append("line")
    .attr("x1",function(d){return x(d)}).attr("x2",function(d){return x(d)})
    .attr("y1",top).attr("y2",bottom)
    .attr("stroke","#d2cbc3").attr("stroke-width",1);
  g.selectAll(".hg").data(yTicks[i]).enter().append("line")
    .attr("x1",left).attr("x2",right)
    .attr("y1",function(d){return y(d)}).attr("y2",function(d){return y(d)})
    .attr("stroke","#d2cbc3").attr("stroke-width",1);

  // series
  var line = d3.line().curve(curves[i])
    .x(function(d){return x(toDate(d[0]))})
    .y(function(d){return y(d[1])});
  g.append("path").datum(data)
    .attr("d",line).attr("fill","none")
    .attr("stroke",colors[i]).attr("stroke-width",widths[i])
    .attr("stroke-linejoin","round");

  // top spine
  g.append("line").attr("x1",left).attr("x2",right)
    .attr("y1",top).attr("y2",top)
    .attr("stroke","#555").attr("stroke-width",1.5);

  // axes
  var xa = g.append("g").attr("transform","translate(0,"+bottom+")")
    .call(d3.axisBottom(x).tickValues(tickDates)
      .tickFormat(d3.utcFormat("%Y-%m-%d")).tickSize(3).tickSizeOuter(0).tickPadding(2));
  xa.select(".domain").attr("stroke","#444").attr("stroke-width",2);
  xa.selectAll(".tick line").attr("stroke","#444");
  xa.selectAll("text").attr("font-size",9).attr("font-weight","bold")
    .attr("fill","#222").attr("font-family","Liberation Sans, Arial, sans-serif");

  var labels = yTickLabels[i];
  var ya = g.append("g").attr("transform","translate("+left+",0)")
    .call(d3.axisLeft(y).tickValues(yTicks[i])
      .tickFormat(function(d,k){return labels[k]}).tickSize(3).tickSizeOuter(0).tickPadding(2));
  ya.select(".domain").attr("stroke","#444").attr("stroke-width",1.5);
  ya.selectAll(".tick line").attr("stroke","#444");
  ya.selectAll("text").attr("font-size",10.5).attr("fill","#333")
    .attr("font-family","Liberation Sans, Arial, sans-serif");
});
</script>
</body>
</html>
